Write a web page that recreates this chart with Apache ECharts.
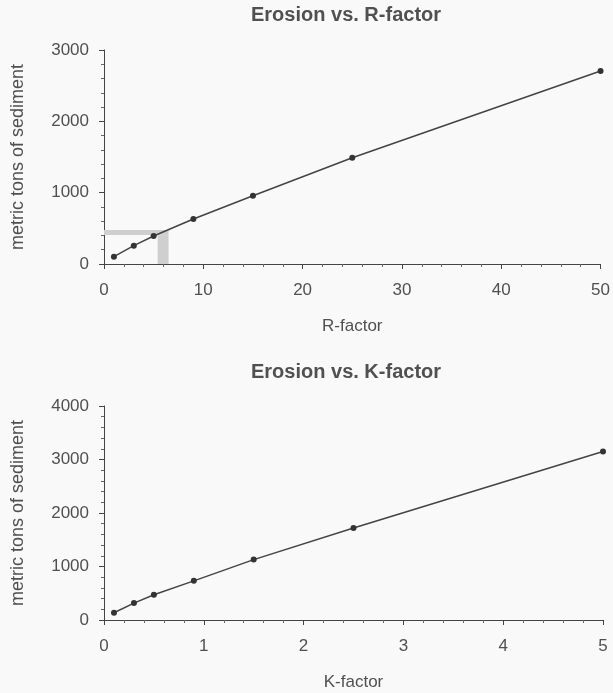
<!DOCTYPE html>
<html>
<head>
<meta charset="utf-8">
<script src="https://cdn.jsdelivr.net/npm/echarts@6/dist/echarts.min.js"></script>
<style>
  html, body { margin: 0; padding: 0; background: #f9f9f9; }
  #chart { width: 613px; height: 693px; }
</style>
</head>
<body>
<div id="chart"></div>
<script>
// top chart: erosion vs R-factor
const rFactor = [1, 3, 5, 9, 15, 25, 50];
const rErosion = [103, 257, 392, 630, 957, 1489, 2706];
// gray guide bands in the top chart [x0, y0, x1, y1]
const guideH = [0, 405, 6.5, 475];
const guideV = [5.4, 0, 6.5, 405];

// bottom chart: erosion vs K-factor
const kFactor = [0.1, 0.3, 0.5, 0.9, 1.5, 2.5, 5];
const kErosion = [136, 316, 471, 732, 1129, 1718, 3150];

const textColor = '#505050';
const lineColor = '#444';

function makeX(idx, max, interval, name) {
    return {
        type: 'value',
        gridIndex: idx,
        min: 0,
        max: max,
        interval: interval,
        name: name,
        nameLocation: 'middle',
        nameGap: 54,
        nameTextStyle: { color: textColor, fontSize: 17, fontFamily: 'Liberation Sans' },
        axisLine: { lineStyle: { color: lineColor, width: 1 } },
        axisTick: { length: 5, lineStyle: { color: lineColor } },
        minorTick: { show: true, splitNumber: 5, length: 3, lineStyle: { color: '#666' } },
        axisLabel: { color: textColor, fontSize: 17, margin: 18, fontFamily: 'Liberation Sans' },
        splitLine: { show: false }
    };
}

function makeY(idx, max) {
    return {
        type: 'value',
        gridIndex: idx,
        min: 0,
        max: max,
        interval: 1000,
        name: 'metric tons of sediment',
        nameLocation: 'middle',
        nameGap: 77,
        nameTextStyle: { color: textColor, fontSize: 18, fontFamily: 'Liberation Sans' },
        axisLine: { show: true, lineStyle: { color: lineColor, width: 1 } },
        axisTick: { show: true, length: 5, lineStyle: { color: lineColor } },
        minorTick: { show: true, splitNumber: 5, length: 3, lineStyle: { color: '#666' } },
        axisLabel: {
            color: textColor, fontSize: 17, margin: 15, fontFamily: 'Liberation Sans',
            formatter: v => String(v)
        },
        splitLine: { show: false }
    };
}

function pairs(xs, ys) {
    return xs.map((x, i) => [x, ys[i]]);
}

const chart = echarts.init(document.getElementById('chart'));
chart.setOption({
    backgroundColor: '#f9f9f9',
    animation: false,
    title: [
        {
            text: 'Erosion vs. R-factor',
            left: 246, top: 0,
            textStyle: { color: '#505050', fontSize: 20, fontWeight: 'bold', fontFamily: 'Liberation Sans' }
        },
        {
            text: 'Erosion vs. K-factor',
            left: 246, top: 357,
            textStyle: { color: '#505050', fontSize: 20, fontWeight: 'bold', fontFamily: 'Liberation Sans' }
        }
    ],
    grid: [
        { left: 104, right: 10, top: 50, height: 214 },
        { left: 104, right: 10, top: 406, height: 214 }
    ],
    xAxis: [
        makeX(0, 50, 10, 'R-factor'),
        makeX(1, 5, 1, 'K-factor')
    ],
    yAxis: [
        makeY(0, 3000),
        makeY(1, 4000)
    ],
    series: [
        {
            type: 'line',
            xAxisIndex: 0,
            yAxisIndex: 0,
            data: pairs(rFactor, rErosion),
            symbol: 'circle',
            symbolSize: 6,
            itemStyle: { color: '#333' },
            lineStyle: { color: lineColor, width: 1.5 },
            markArea: {
                silent: true,
                itemStyle: { color: '#cfcfcf' },
                data: [
                    [{ coord: [guideH[0], guideH[1]] }, { coord: [guideH[2], guideH[3]] }],
                    [{ coord: [guideV[0], guideV[1]] }, { coord: [guideV[2], guideV[3]] }]
                ]
            }
        },
        {
            type: 'line',
            xAxisIndex: 1,
            yAxisIndex: 1,
            data: pairs(kFactor, kErosion),
            symbol: 'circle',
            symbolSize: 6,
            itemStyle: { color: '#333' },
            lineStyle: { color: lineColor, width: 1.5 }
        }
    ]
});
</script>
</body>
</html>
